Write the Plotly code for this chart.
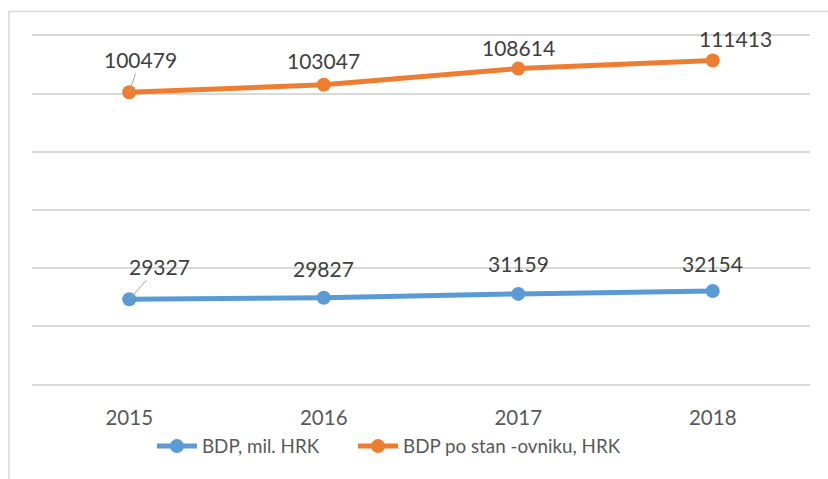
import plotly.graph_objects as go

# data
years = ["2015", "2016", "2017", "2018"]
bdp_mil = [29327, 29827, 31159, 32154]
bdp_po_stanovniku = [100479, 103047, 108614, 111413]
series_names = ["BDP, mil. HRK", "BDP po stan -ovniku, HRK"]

BLUE = "#5B9BD5"
ORANGE = "#ED7D31"
TEXT = "#404040"
AXIS_TEXT = "#595959"
GRID = "#D9D9D9"
FONT = "Lato"

fig = go.Figure()

# each series gets its own legend box so the two entries can be spaced like Excel
for name, vals, col, leg in [(series_names[0], bdp_mil, BLUE, "legend"),
                             (series_names[1], bdp_po_stanovniku, ORANGE, "legend2")]:
    fig.add_trace(go.Scatter(
        x=years, y=vals, name=name, mode="lines+markers",
        line=dict(color=col, width=5),
        marker=dict(color=col, size=14),
        legend=leg,
    ))

# data labels (Excel style), first point of each series has a leader line
label_offsets = {
    "blue": [(30, -33), (0, -29), (0, -30), (0, -27)],
    "orange": [(11, -33), (0, -24), (0, -21), (23, -22)],
}
for key, vals in [("blue", bdp_mil), ("orange", bdp_po_stanovniku)]:
    for i, v in enumerate(vals):
        dx, dy = label_offsets[key][i]
        if i == 0:
            fig.add_annotation(x=i, y=v, text=str(v), showarrow=True,
                               ax=dx, ay=dy, arrowhead=0, arrowwidth=1,
                               arrowcolor="#A6A6A6", standoff=0,
                               font=dict(family=FONT, size=21, color=TEXT))
        else:
            fig.add_annotation(x=i, y=v, text=str(v), showarrow=False,
                               xshift=dx, yshift=-dy,
                               font=dict(family=FONT, size=21, color=TEXT))

# chart frame
fig.add_shape(type="rect", xref="paper", yref="paper",
              x0=-0.0296, x1=1.2, y0=-0.6, y1=1.0574,
              line=dict(color=GRID, width=1.5), layer="below")

leg_style = dict(orientation="h", xanchor="left", y=-0.164, yanchor="middle",
                 font=dict(family=FONT, size=18.8, color=AXIS_TEXT), itemwidth=40,
                 bgcolor="rgba(0,0,0,0)")

fig.update_layout(
    width=828, height=479,
    margin=dict(l=32, r=18, t=31.5, b=90.5),
    plot_bgcolor="white", paper_bgcolor="white",
    font=dict(family=FONT, size=20, color=TEXT),
    showlegend=True,
    legend=dict(x=0.1542, **leg_style),
    legend2=dict(x=0.4126, **leg_style),
    xaxis=dict(type="category", range=[-0.5, 3.5], showgrid=False, showline=False,
               ticks="", zeroline=False, ticklabelstandoff=15,
               tickfont=dict(family=FONT, size=20.5, color=AXIS_TEXT)),
    yaxis=dict(range=[-1200, 121200], dtick=20000, tick0=0, showgrid=True,
               gridcolor=GRID, gridwidth=1.5, showticklabels=False,
               zeroline=False, showline=False, ticks=""),
)

fig.write_html("out.html", config={"displayModeBar": False},
               post_script="document.body.style.margin='0';")
